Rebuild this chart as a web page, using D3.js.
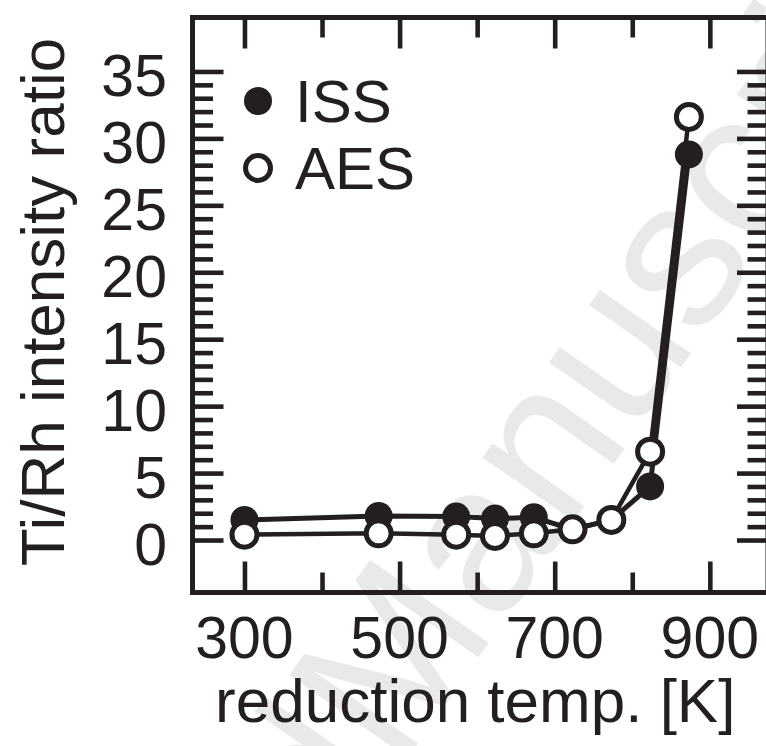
<!DOCTYPE html>
<html>
<head>
<meta charset="utf-8">
<script src="https://cdn.jsdelivr.net/npm/d3@7"></script>
<style>
  body { margin: 0; background: #fff; }
  svg { display: block; font-family: "Liberation Sans", Arial, sans-serif; }
</style>
</head>
<body>
<div class="bod"></div>
<script>
// data
const temps = [300, 473, 573, 623, 673, 723, 773, 823, 873]
const issValues = [1.5, 1.8, 1.75, 1.6, 1.7, 0.8, 1.5, 4.0, 28.8]
const aesValues = [0.4, 0.5, 0.4, 0.3, 0.5, 0.8, 1.5, 6.6, 31.6]
const xLabels = [300, 500, 700, 900]
const xMinor = [400, 600, 800]
const yLabels = [0, 5, 10, 15, 20, 25, 30, 35]
const legendNames = ['ISS', 'AES']

const ink = '#231f20'
const size = { width: 766, height: 746, left: 192.5, right: 768, top: 17.5, bottom: 592.5 }

const svg = d3.select('.bod')
  .append('svg')
  .attr('width', size.width)
  .attr('height', size.height)

const x = d3.scaleLinear().domain([233, 975]).range([size.left, size.right])
const y = d3.scaleLinear().domain([-3.92, 39.03]).range([size.bottom, size.top])

// faint watermark
const wm = svg.append('g')
  .attr('transform', 'translate(398,772) rotate(-55)')
  .attr('fill', '#e9e9e9')
  .style('font-size', '210px')
wm.append('text').attr('text-anchor', 'end').text('Accepted ')
wm.append('text').attr('text-anchor', 'start').text('Manuscript')

// ticks on all four sides, pointing inward
const tickStyle = g => {
  g.select('.domain').remove()
  g.selectAll('.tick line').attr('stroke', ink).attr('stroke-width', 4.6)
  g.selectAll('.tick text').remove()
}
const yMinor = d3.range(0, 36).filter(v => v % 5 != 0)

svg.append('g').attr('transform', `translate(0,${size.bottom})`)
  .call(d3.axisBottom(x).tickValues(xLabels).tickSize(-31)).call(tickStyle)
svg.append('g').attr('transform', `translate(0,${size.bottom})`)
  .call(d3.axisBottom(x).tickValues(xMinor).tickSize(-20)).call(tickStyle)
svg.append('g').attr('transform', `translate(0,${size.top})`)
  .call(d3.axisTop(x).tickValues(xLabels).tickSize(-31)).call(tickStyle)
svg.append('g').attr('transform', `translate(0,${size.top})`)
  .call(d3.axisTop(x).tickValues(xMinor).tickSize(-20)).call(tickStyle)
svg.append('g').attr('transform', `translate(${size.left},0)`)
  .call(d3.axisLeft(y).tickValues(yLabels).tickSize(-31)).call(tickStyle)
svg.append('g').attr('transform', `translate(${size.left},0)`)
  .call(d3.axisLeft(y).tickValues(yMinor).tickSize(-20.5)).call(tickStyle)
svg.append('g').attr('transform', `translate(${size.right},0)`)
  .call(d3.axisRight(y).tickValues(yLabels).tickSize(-31)).call(tickStyle)
svg.append('g').attr('transform', `translate(${size.right},0)`)
  .call(d3.axisRight(y).tickValues(yMinor).tickSize(-20.5)).call(tickStyle)

// frame
svg.append('rect')
  .attr('x', size.left).attr('y', size.top)
  .attr('width', size.right - size.left).attr('height', size.bottom - size.top)
  .attr('fill', 'none').attr('stroke', ink).attr('stroke-width', 5)

// tick labels
svg.append('g').selectAll('text')
  .data(xLabels).enter().append('text')
  .attr('x', d => x(d)).attr('y', 658)
  .attr('text-anchor', 'middle')
  .style('font-size', '59px').attr('fill', ink)
  .text(d => d)

svg.append('g').selectAll('text')
  .data(yLabels).enter().append('text')
  .attr('x', 167).attr('y', d => y(d) + 25)
  .attr('text-anchor', 'end')
  .style('font-size', '59px').attr('fill', ink)
  .text(d => d)

// axis titles
svg.append('text')
  .attr('x', (size.left + size.right) / 2 - 5).attr('y', 722)
  .attr('text-anchor', 'middle')
  .style('font-size', '62px').attr('fill', ink)
  .text('reduction temp. [K]')

svg.append('text')
  .attr('transform', 'translate(64,302) rotate(-90)')
  .attr('text-anchor', 'middle')
  .style('font-size', '62px').attr('fill', ink)
  .text('Ti/Rh intensity ratio')

// series
const iss = temps.map((t, i) => ({ t: t, v: issValues[i] }))
const aes = temps.map((t, i) => ({ t: t, v: aesValues[i] }))
const line = d3.line().x(d => x(d.t)).y(d => y(d.v))

svg.append('path').datum(iss).attr('d', line)
  .attr('fill', 'none').attr('stroke', ink).attr('stroke-width', 5)
svg.append('path').datum(aes).attr('d', line)
  .attr('fill', 'none').attr('stroke', ink).attr('stroke-width', 4.5)

svg.append('g').selectAll('circle')
  .data(iss).enter().append('circle')
  .attr('cx', d => x(d.t)).attr('cy', d => y(d.v))
  .attr('r', 14).attr('fill', ink)

svg.append('g').selectAll('circle')
  .data(aes).enter().append('circle')
  .attr('cx', d => x(d.t)).attr('cy', d => y(d.v))
  .attr('r', 12.5).attr('fill', '#fff').attr('stroke', ink).attr('stroke-width', 5)

// legend
const legend = svg.append('g').selectAll('g')
  .data(legendNames).enter().append('g')
  .attr('transform', (d, i) => `translate(258,${101 + i * 67})`)
legend.append('circle')
  .attr('r', (d, i) => i == 0 ? 14 : 12.5)
  .attr('fill', (d, i) => i == 0 ? ink : '#fff')
  .attr('stroke', ink).attr('stroke-width', (d, i) => i == 0 ? 0 : 5)
legend.append('text')
  .attr('x', 37).attr('y', 21)
  .style('font-size', '60px').attr('fill', ink)
  .text(d => d)
</script>
</body>
</html>
